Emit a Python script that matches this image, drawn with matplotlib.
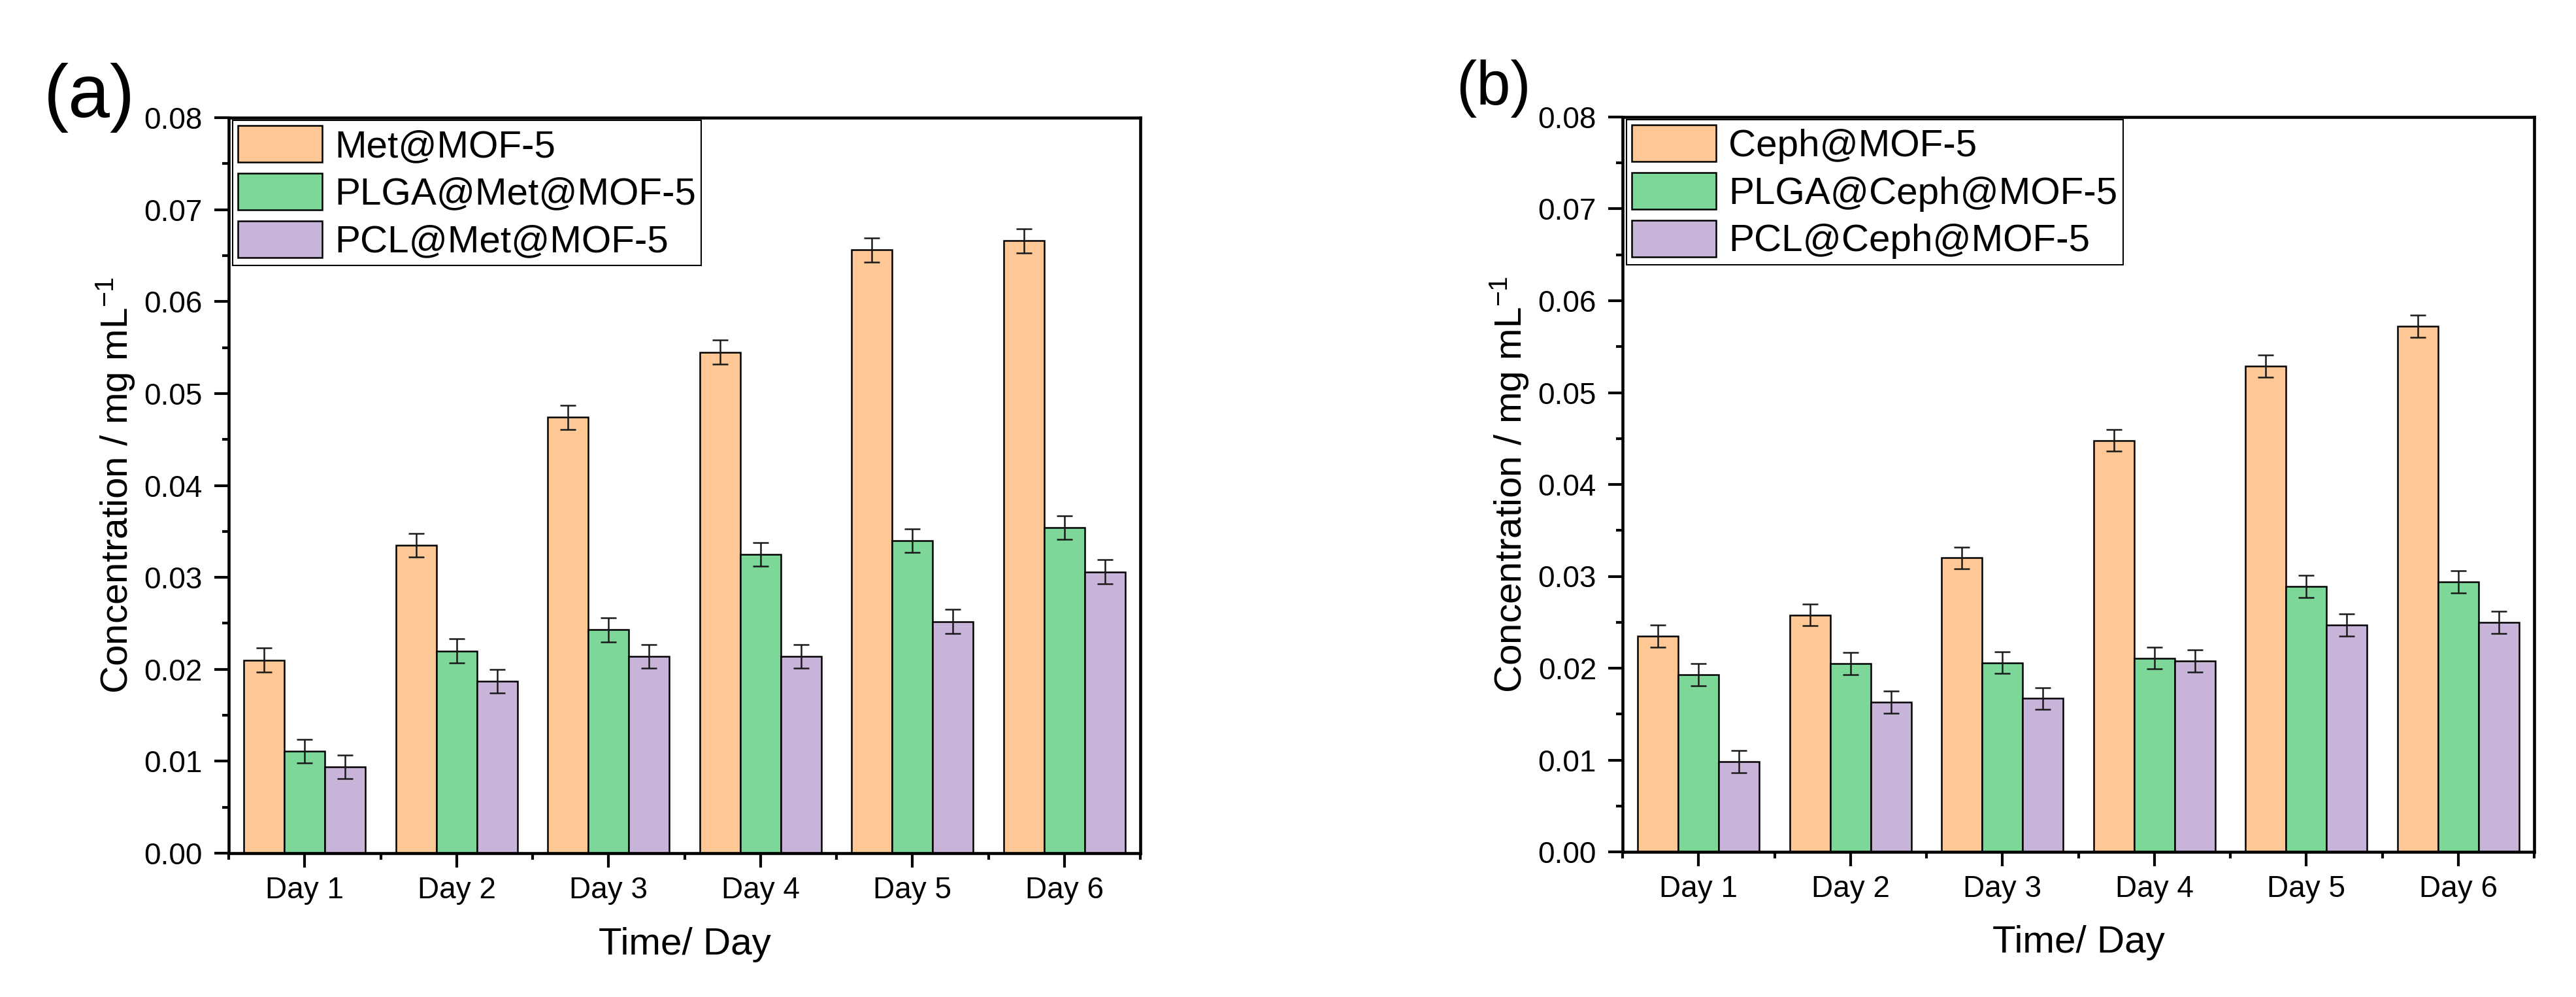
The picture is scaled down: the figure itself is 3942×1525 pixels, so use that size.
"""plot.py

Release of drug from MOF-5 carriers over six days, two panels.
"""

import matplotlib

matplotlib.use("Agg")

# flake8: noqa: E402
import matplotlib.pyplot as plt
import numpy as np
from matplotlib.ticker import FixedLocator, MultipleLocator

days = ["Day 1", "Day 2", "Day 3", "Day 4", "Day 5", "Day 6"]

# Panel (a): metronidazole
met_labels = ["Met@MOF-5", "PLGA@Met@MOF-5", "PCL@Met@MOF-5"]
met_mof = [0.0210, 0.0335, 0.0474, 0.0545, 0.0656, 0.0666]
met_plga = [0.0111, 0.0220, 0.0243, 0.0325, 0.0340, 0.0354]
met_pcl = [0.0094, 0.0187, 0.0214, 0.0214, 0.0252, 0.0306]
met_mof_err = [0.0013, 0.0013, 0.0013, 0.0013, 0.0013, 0.0013]
met_plga_err = [0.0013, 0.0013, 0.0013, 0.0013, 0.0013, 0.0013]
met_pcl_err = [0.0013, 0.0013, 0.0013, 0.0013, 0.0013, 0.0013]

# Panel (b): cephalexin
ceph_labels = ["Ceph@MOF-5", "PLGA@Ceph@MOF-5", "PCL@Ceph@MOF-5"]
ceph_mof = [0.0235, 0.0258, 0.0320, 0.0448, 0.0529, 0.0572]
ceph_plga = [0.0193, 0.0205, 0.0206, 0.0211, 0.0289, 0.0294]
ceph_pcl = [0.0098, 0.0163, 0.0167, 0.0208, 0.0247, 0.0250]
ceph_mof_err = [0.0012, 0.0012, 0.0012, 0.0012, 0.0012, 0.0012]
ceph_plga_err = [0.0012, 0.0012, 0.0012, 0.0012, 0.0012, 0.0012]
ceph_pcl_err = [0.0012, 0.0012, 0.0012, 0.0012, 0.0012, 0.0012]

colors = ["#FEC896", "#7DD799", "#C8B4D8"]

plt.rcParams["font.family"] = ["Liberation Sans", "DejaVu Sans"]
plt.rcParams["mathtext.fontset"] = "custom"
plt.rcParams["mathtext.rm"] = "Liberation Sans"
plt.rcParams["mathtext.default"] = "regular"

W, H = 3942, 1525
DPI = 300


def draw_panel(ax, series, errors, labels):
    """Draw one grouped bar panel with error bars and a legend."""
    x = np.arange(len(days))
    width = 0.8 / 3
    for i, (vals, errs) in enumerate(zip(series, errors)):
        ax.bar(
            x + (i - 1) * width,
            vals,
            width,
            yerr=errs,
            color=colors[i],
            edgecolor="black",
            linewidth=0.6,
            label=labels[i],
            error_kw=dict(elinewidth=0.6, capthick=0.6, capsize=2.8, ecolor="#1a1a1a"),
            zorder=2,
        )

    ax.set_xlim(-0.5, 5.5)
    ax.set_ylim(0, 0.08)
    ax.set_xticks(x)
    ax.set_xticklabels(days)
    ax.xaxis.set_minor_locator(FixedLocator(np.arange(-0.5, 6, 1.0)))
    ax.yaxis.set_major_locator(MultipleLocator(0.01))
    ax.yaxis.set_minor_locator(MultipleLocator(0.005))
    ax.yaxis.set_major_formatter(plt.FormatStrFormatter("%.2f"))

    for side in ["left", "bottom", "right", "top"]:
        ax.spines[side].set_linewidth(1.1)
    ax.tick_params(which="major", direction="out", length=5.3, width=1.0, labelsize=11)
    ax.tick_params(which="minor", direction="out", length=2.5, width=1.0)
    ax.tick_params(axis="x", which="major", pad=3)
    ax.tick_params(axis="y", which="major", pad=4.3)
    ax.tick_params(top=False, right=False, which="both")

    ax.set_ylabel("Concentration / mg mL$^{-1}$", fontsize=14)
    ax.set_xlabel("Time/ Day", fontsize=14)
    ax.yaxis.set_label_coords(-0.101, 0.5)
    ax.xaxis.set_label_coords(0.5, -0.100)

    leg = ax.legend(
        loc="upper left",
        bbox_to_anchor=(0.0043, 0.9964),
        borderaxespad=0,
        fontsize=14,
        handlelength=2.21,
        handleheight=1.10,
        handletextpad=0.33,
        labelspacing=0.22,
        borderpad=0.14,
        fancybox=False,
        framealpha=1,
        edgecolor="black",
    )
    leg.get_frame().set_linewidth(0.5)


fig = plt.figure(figsize=(W / DPI, H / DPI), dpi=DPI)

ax_a = fig.add_axes([350 / W, 1 - 1305 / H, 1395 / W, 1125 / H])
ax_b = fig.add_axes([2483 / W, 1 - 1303 / H, 1395 / W, 1124 / H])

draw_panel(
    ax_a,
    [met_mof, met_plga, met_pcl],
    [met_mof_err, met_plga_err, met_pcl_err],
    met_labels,
)
draw_panel(
    ax_b,
    [ceph_mof, ceph_plga, ceph_pcl],
    [ceph_mof_err, ceph_plga_err, ceph_pcl_err],
    ceph_labels,
)

fig.text(67 / W, 1 - 179 / H, "(a)", fontsize=27.5, va="baseline", ha="left")
fig.text(2228 / W, 1 - 160 / H, "(b)", fontsize=22.5, va="baseline", ha="left")

fig.savefig("out.png", dpi=DPI)
